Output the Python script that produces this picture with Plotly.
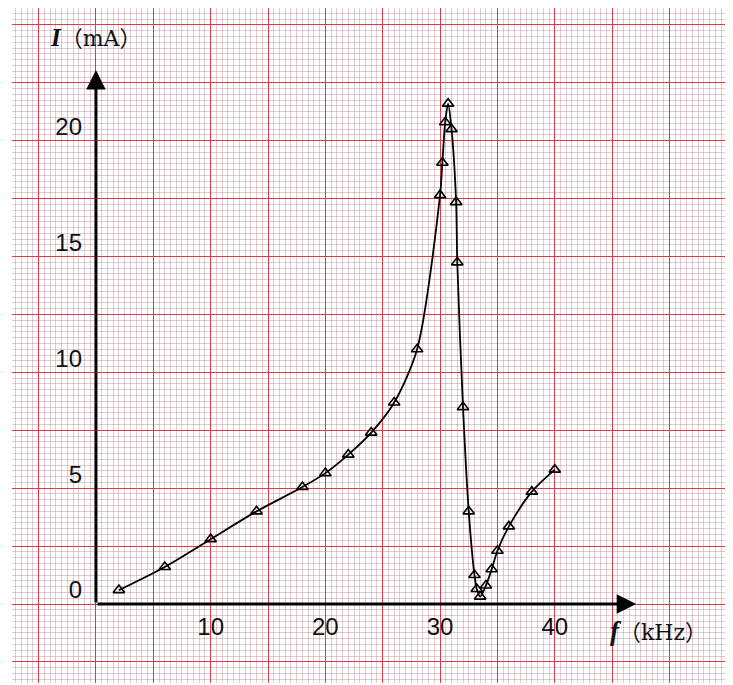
import plotly.graph_objects as go

# ---- data ----
freq_khz = [2, 6, 10, 14, 18, 20, 22, 24, 26, 28, 30, 30.2, 30.45, 30.7, 31,
            31.4, 31.5, 32, 32.5, 33, 33.2, 33.5, 34, 34.5, 35, 36, 38, 40]
current_ma = [0.6, 1.6, 2.8, 4.0, 5.05, 5.65, 6.45, 7.4, 8.7, 11.0, 17.65, 19.05,
              20.8, 21.6, 20.5, 17.35, 14.75, 8.5, 4.0, 1.25, 0.65, 0.32, 0.8,
              1.5, 2.3, 3.35, 4.85, 5.8]

x_tick_vals = [10, 20, 30, 40]
x_tick_text = ["10", "20", "30", "40"]
y_tick_vals = [0, 5, 10, 15, 20]
y_tick_text = ["0", "5", "10", "15", "20"]

x_range = [-7.32, 55.54]
y_range = [-3.41, 25.73]
x_arrow_end = 47.1
y_arrow_end = 23.05

MAJOR = "#dc3c4a"
MINOR = "rgba(185,130,142,0.42)"

fig = go.Figure()

fig.add_trace(go.Scatter(
    x=freq_khz, y=current_ma, mode="lines+markers",
    line=dict(color="black", width=1.8, shape="spline", smoothing=0.8),
    marker=dict(symbol="triangle-up-open", size=10, color="black",
                line=dict(color="black", width=1.6)),
    showlegend=False, hoverinfo="skip",
))

# grid: majors every 5 kHz / 2.5 mA, labels only at the labelled values
y_grid_vals = [i * 2.5 for i in range(-1, 11)]
y_grid_text = [y_tick_text[y_tick_vals.index(v)] if v in y_tick_vals else "" for v in y_grid_vals]
x_grid_vals = [i * 5 for i in range(-1, 12)]
x_grid_text = [x_tick_text[x_tick_vals.index(v)] if v in x_tick_vals else "" for v in x_grid_vals]

tick_font = dict(family="Liberation Sans, Arial, sans-serif", size=24, color="#111111")

# plot area: page offset of 8px (body margin) is taken into account
fig.update_layout(
    width=725, height=677,
    margin=dict(l=4, r=0, t=0, b=2),
    paper_bgcolor="white", plot_bgcolor="white",
    xaxis=dict(
        range=x_range, anchor="free", position=(683 - 604) / 675,
        tickmode="array", tickvals=x_grid_vals, ticktext=x_grid_text,
        showgrid=True, gridcolor=MAJOR, gridwidth=1.3,
        minor=dict(tick0=0, dtick=0.5, showgrid=True, gridcolor=MINOR, gridwidth=1),
        zeroline=False, showline=False, ticks="", tickfont=tick_font,
        ticklabelstandoff=6, automargin=False, fixedrange=True,
    ),
    yaxis=dict(
        range=y_range, anchor="free", position=(96 - 12) / 721,
        tickmode="array", tickvals=y_grid_vals, ticktext=y_grid_text,
        showgrid=True, gridcolor=MAJOR, gridwidth=1.3,
        minor=dict(tick0=0, dtick=0.25, showgrid=True, gridcolor=MINOR, gridwidth=1),
        zeroline=False, showline=False, ticks="", tickfont=tick_font,
        ticklabelstandoff=14, ticklabelshift=-14, automargin=False, fixedrange=True,
    ),
)

# axes with arrowheads
fig.add_annotation(x=x_arrow_end, y=0, ax=0, ay=0, xref="x", yref="y",
                   axref="x", ayref="y", text="", showarrow=True,
                   arrowhead=2, arrowsize=1.3, arrowwidth=3, arrowcolor="black")
fig.add_annotation(x=0, y=y_arrow_end, ax=0, ay=0, xref="x", yref="y",
                   axref="x", ayref="y", text="", showarrow=True,
                   arrowhead=2, arrowsize=1.3, arrowwidth=3, arrowcolor="black")

# axis titles
title_font = dict(family="DejaVu Serif, Noto Sans CJK SC, serif", size=22, color="#111111")
sym_l = "<b><i><span style='font-family:Liberation Serif;font-size:%dpx'>"
fig.add_annotation(x=-4.2, y=24.45, xref="x", yref="y", xanchor="left", yanchor="middle",
                   showarrow=False,
                   text=(sym_l % 25) + "I</span></i></b>（mA）",
                   font=title_font)
fig.add_annotation(x=44.6, y=-1.15, xref="x", yref="y", xanchor="left", yanchor="middle",
                   showarrow=False,
                   text=(sym_l % 27) + "f</span></i></b>（kHz）",
                   font=title_font)

fig.write_html("out.html")
